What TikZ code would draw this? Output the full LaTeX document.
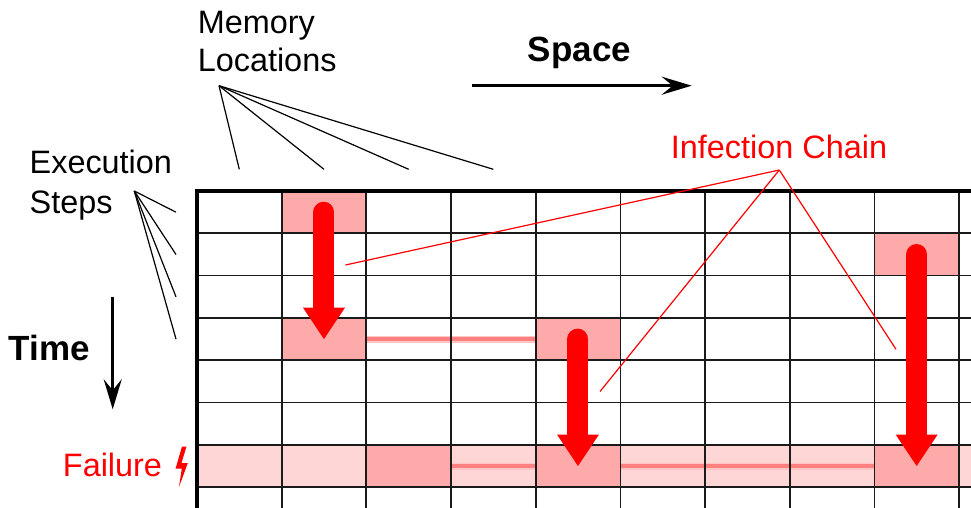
\documentclass[tikz,border=0pt]{standalone}
\usepackage{fontspec}
\setmainfont{Liberation Sans}
\usetikzlibrary{calc,arrows.meta}
\definecolor{cellhot}{HTML}{FFAAAA}
\definecolor{celllight}{HTML}{FFD6D6}
\definecolor{linksalmon}{HTML}{FF8080}
\definecolor{linkhalo}{HTML}{FFC4C4}
\definecolor{gridgray}{HTML}{1A1A1A}
\tikzset{
  lbl/.style={inner sep=0pt, font=\fontsize{32.4}{38}\selectfont},
  boldlbl/.style={inner sep=0pt, font=\fontsize{35}{40}\selectfont\bfseries},
  leader/.style={draw=black, line width=1.2pt},
  redleader/.style={draw=red, line width=1.2pt},
  gridline/.style={draw=gridgray, line width=1.7pt},
  border/.style={draw=black, line width=3.6pt},
  bigshaft/.style={draw=red, line width=21pt, line cap=round},
  axisarrow/.style={draw=black, line width=3pt,
    -{Stealth[length=30pt, width=18pt, inset=11pt]}},
  propagation/.style={line width=4pt, draw=linksalmon},
  halo/.style={line width=7pt, draw=linkhalo},
}
\begin{document}
\begin{tikzpicture}[x=1pt, y=-1pt]
\useasboundingbox (0,0) rectangle (971,508);

% cell centres of the space/time grid: row r, column c
\foreach \r in {0,...,7}
  \foreach \c in {0,...,9}
    \coordinate (c\r-\c) at ({239.3+\c*84.67}, {212.2+\r*42.3});

% failure row background
\fill[celllight] (197,445) rectangle (971,487.2);

% infected cells
\foreach \r/\c in {0/1, 1/8, 3/1, 3/4, 6/2, 6/4, 6/8}
  \fill[cellhot] ($(c\r-\c)+(-42.33,-21.15)$) rectangle ($(c\r-\c)+(42.33,21.15)$);

% propagation of the infected value along a step
\foreach \r/\a/\b in {3/1/4, 6/2/4, 6/4/8} {
  \draw[halo] ($(c\r-\a)+(42.33,0)$) -- ($(c\r-\b)+(-42.33,0)$);
}
\draw[propagation] ($(c3-1)+(42.33,0)$) -- ($(c3-4)+(-42.33,0)$);
\draw[propagation] ($(c6-3)+(-42.33,0)$) -- ($(c6-4)+(-42.33,0)$);
\draw[propagation] ($(c6-4)+(42.33,0)$) -- ($(c6-8)+(-42.33,0)$);

% grid
\foreach \i in {1,...,9}
  \draw[gridline] ({197+\i*84.67},191) -- ({197+\i*84.67},508);
\foreach \j in {1,...,7}
  \draw[gridline] (197,{191+\j*42.3}) -- (971,{191+\j*42.3});
\draw[border] (971,191) -- (197,191) -- (197,508);

% infection chain arrows
\foreach \a/\b in {c0-1/c3-1, c3-4/c6-4, c1-8/c6-8} {
  \draw[bigshaft] (\a) -- ($(\b)+(0,-30)$);
  \fill[red] (\b) -- ++(-21,-31.4) -- ++(42,0) -- cycle;
}

% labels
\node[lbl, anchor=base west] (mem1) at (197.6,33.3) {Memory};
\node[lbl, anchor=base west] (mem2) at (197.6,71.7) {Locations};
\node[lbl, anchor=base west] (exe1) at (29.5,173.3) {Execution};
\node[lbl, anchor=base west] (exe2) at (29.5,213.3) {Steps};
\node[boldlbl, anchor=base] (space) at (579.5,61.7) {Space};
\node[boldlbl, anchor=base] (time) at (49.3,360.7) {Time};
\node[lbl, anchor=base, text=red] (fail) at (112.5,476.7) {Failure};
\node[lbl, anchor=base, text=red] (chain) at (779,158.3) {Infection Chain};

% failure bolt
\fill[red] (182,446.5) -- (186.5,446.5) -- (181.5,463) -- (187.8,463)
  -- (179,487) -- (181.8,468.5) -- (175.6,468.5) -- cycle;

% axis arrows
\coordinate (sp0) at (471.7,85.7);
\coordinate (sp1) at (691.7,85.7);
\draw[axisarrow] (sp0) -- (sp1);
\coordinate (tm0) at (112.7,296.7);
\coordinate (tm1) at (112.7,409.3);
\draw[axisarrow] (tm0) -- (tm1);

% leaders: memory locations
\coordinate (memhub) at (219,85.7);
\foreach \c in {0,...,3}
  \draw[leader] (memhub) -- ({239.3+\c*84.67},169.3);

% leaders: execution steps
\coordinate (exehub) at (134.3,191);
\foreach \r in {0,...,3}
  \draw[leader] (exehub) -- (176,{212.2+\r*42.3});

% leaders: infection chain
\coordinate (chainhub) at (779.3,170);
\coordinate (ch1) at (345.5,265);
\coordinate (ch2) at (600,391.5);
\coordinate (ch3) at (896,349.3);
\foreach \e in {ch1,ch2,ch3}
  \draw[redleader] (chainhub) -- (\e);
\end{tikzpicture}
\end{document}
